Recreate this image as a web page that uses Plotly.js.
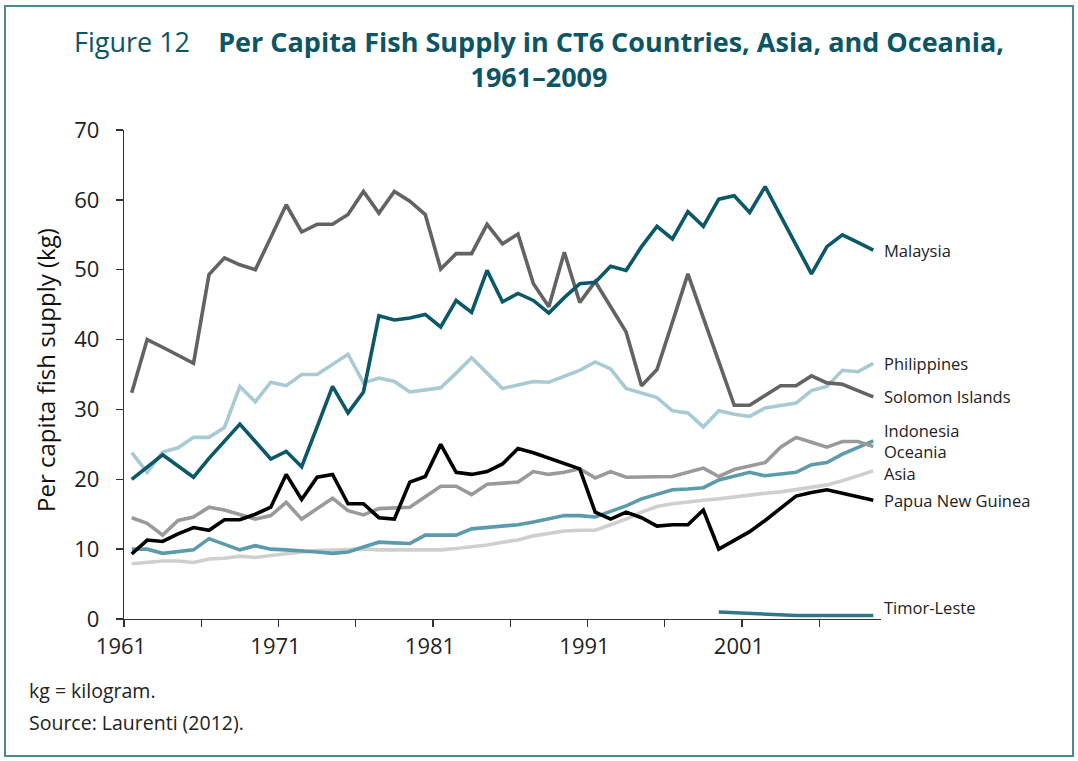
<!DOCTYPE html>
<html>
<head>
<meta charset="utf-8">
<script src="https://cdn.plot.ly/plotly-3.0.1.min.js"></script>
<style>html,body{margin:0;padding:0;background:#fff;}#chart{width:1078px;height:761px;}</style>
</head>
<body>
<div id="chart"></div>
<script>
const years = [1961,1962,1963,1964,1965,1966,1967,1968,1969,1970,
  1971,1972,1973,1974,1975,1976,1977,1978,1979,1980,
  1981,1982,1983,1984,1985,1986,1987,1988,1989,1990,
  1991,1992,1993,1994,1995,1996,1997,1998,1999,2000,
  2001,2002,2003,2004,2005,2006,2007,2008,2009];

const malaysia = [20.0,21.7,23.5,21.9,20.3,23.0,25.5,27.9,25.4,22.9,
  24.0,21.8,27.5,33.3,29.5,32.5,43.4,42.8,43.1,43.6,
  41.8,45.6,43.9,49.9,45.4,46.6,45.6,43.8,46.0,48.0,
  48.2,50.5,49.9,53.3,56.2,54.4,58.3,56.2,60.1,60.6,
  58.2,61.9,57.7,53.6,49.4,53.3,55.0,53.9,52.8];

const solomon = [32.4,40.0,38.9,37.7,36.6,49.3,51.7,50.7,50.0,54.6,
  59.3,55.4,56.5,56.5,57.9,61.2,58.1,61.2,59.8,57.9,
  50.1,52.3,52.3,56.5,53.7,55.1,48.0,44.7,52.5,45.3,
  48.3,44.7,41.1,33.4,35.7,42.5,49.4,43.1,36.9,30.6,
  30.6,32.0,33.4,33.4,34.8,33.8,33.6,32.7,31.8];

const philippines = [23.8,21.0,23.9,24.5,26.0,26.0,27.4,33.3,31.1,33.9,
  33.4,35.0,35.0,36.4,37.9,33.8,34.5,34.0,32.5,32.8,
  33.1,35.2,37.4,35.2,33.0,33.5,34.0,33.9,34.7,35.6,
  36.8,35.8,33.0,32.4,31.7,29.8,29.5,27.5,29.8,29.3,
  29.0,30.2,30.5,30.9,32.7,33.3,35.6,35.4,36.6];

const indonesia = [14.5,13.7,12.0,14.1,14.6,16.0,15.6,15.0,14.3,14.8,
  16.7,14.3,15.8,17.3,15.5,14.9,15.8,15.9,16.0,17.5,
  19.0,19.0,17.8,19.3,19.4,19.6,21.1,20.7,21.0,21.5,
  20.2,21.1,20.3,20.3,20.3,20.4,21.0,21.6,20.4,21.4,
  21.9,22.4,24.6,26.0,25.3,24.6,25.4,25.4,24.7];

const oceania = [10.0,10.0,9.4,9.7,9.9,11.5,10.7,9.9,10.5,10.0,
  9.9,9.8,9.6,9.4,9.6,10.3,11.0,10.9,10.8,12.0,
  12.0,12.0,12.9,13.1,13.3,13.5,13.9,14.3,14.8,14.8,
  14.6,15.4,16.2,17.2,17.9,18.5,18.6,18.8,19.9,20.4,
  21.0,20.5,20.7,21.0,22.1,22.4,23.6,24.6,25.5];

const asia = [7.9,8.1,8.3,8.3,8.1,8.6,8.7,9.0,8.8,9.1,
  9.4,9.6,9.8,9.9,10.0,10.0,9.9,9.9,9.8,9.8,
  9.9,10.1,10.3,10.6,11.0,11.3,11.9,12.3,12.6,12.7,
  12.7,13.5,14.3,15.3,16.1,16.5,16.8,17.0,17.2,17.5,
  17.7,18.0,18.2,18.5,18.8,19.2,19.8,20.5,21.2];

const png = [9.3,11.3,11.1,12.2,13.1,12.7,14.2,14.2,15.0,16.0,
  20.7,17.1,20.3,20.7,16.5,16.5,14.5,14.3,19.6,20.4,
  25.0,21.0,20.7,21.1,22.2,24.4,23.8,23.0,22.3,21.5,
  15.3,14.3,15.3,14.5,13.3,13.5,13.5,15.6,10.0,11.2,
  12.5,14.1,15.8,17.6,18.1,18.5,18.0,17.5,17.0];

const timorYears = [1999,2000,2001,2002,2003,2004,2005,2006,2007,2008,2009];
const timor = [1.0,0.9,0.8,0.7,0.5,0.5,0.5,0.5,0.5,0.5,0.5];

const tickLabels = ['1961','','1971','','1981','','1991','','2001',''];

// ---- styling / layout ----
const W = 1078, H = 761;
const M = {l:124, r:197, t:130, b:142};
const PW = W - M.l - M.r, PH = H - M.t - M.b;
const px = x => (x - M.l) / PW;
const py = y => (M.t + PH - y) / PH;

const series = [
  {name:'Asia', x:years, y:asia, color:'#cfcfcf', dy:-3},
  {name:'Oceania', x:years, y:oceania, color:'#5c9bab', dy:-11},
  {name:'Indonesia', x:years, y:indonesia, color:'#9a9a9a', dy:16},
  {name:'Philippines', x:years, y:philippines, color:'#a8cad4', dy:0},
  {name:'Solomon Islands', x:years, y:solomon, color:'#636363', dy:0},
  {name:'Papua New Guinea', x:years, y:png, color:'#000000', dy:0},
  {name:'Malaysia', x:years, y:malaysia, color:'#0b5868', dy:0},
  {name:'Timor-Leste', x:timorYears, y:timor, color:'#2e7889', dy:8}
];

const traces = series.map(s => ({
  type:'scatter', mode:'lines', name:s.name, x:s.x, y:s.y,
  line:{color:s.color, width:3.6}, hoverinfo:'x+y+name'
}));

const labelFont = {family:'Open Sans', size:16.5, color:'#222'};
const noteFont = {family:'Open Sans', size:19.5, color:'#222'};
const titleColor = '#0b5566';

const annotations = series.map(s => ({
  xref:'x', yref:'y', x:2009.5, y:s.y[s.y.length-1], text:s.name,
  xanchor:'left', yanchor:'middle', xshift:1, yshift:s.dy,
  showarrow:false, font:labelFont
}));

annotations.push({
  xref:'paper', yref:'paper', x:px(539), y:py(59.5),
  text:'Figure 12\u00a0\u00a0\u00a0\u00a0<b>Per Capita Fish Supply in CT6 Countries, Asia, and Oceania,</b><br><b>1961\u20132009</b>',
  xanchor:'center', yanchor:'middle', align:'center', showarrow:false,
  font:{family:'Open Sans', size:27, color:titleColor}
});
annotations.push({
  xref:'paper', yref:'paper', x:px(45), y:py(370), text:'Per capita fish supply (kg)',
  textangle:-90, xanchor:'center', yanchor:'middle', showarrow:false,
  font:{family:'Open Sans', size:24, color:'#111'}
});
annotations.push({
  xref:'paper', yref:'paper', x:px(27), y:py(690), text:'kg = kilogram.',
  xanchor:'left', yanchor:'middle', showarrow:false, font:noteFont
});
annotations.push({
  xref:'paper', yref:'paper', x:px(27), y:py(722), text:'Source: Laurenti (2012).',
  xanchor:'left', yanchor:'middle', showarrow:false, font:noteFont
});

const tickVals = tickLabels.map((t,i) => 1960.5 + 5*i);

const layout = {
  width:W, height:H, margin:M,
  paper_bgcolor:'#fff', plot_bgcolor:'#fff',
  showlegend:false,
  xaxis:{
    range:[1960.5, 2009.5], tickmode:'array', tickvals:tickVals, ticktext:tickLabels,
    ticks:'outside', ticklen:7, tickwidth:1.3, tickcolor:'#333',
    showline:true, linecolor:'#333', linewidth:1.3,
    showgrid:false, zeroline:false, ticklabelshift:-3,
    tickfont:{family:'Open Sans', size:22, color:'#222'}
  },
  yaxis:{
    range:[0, 70], tickmode:'linear', tick0:0, dtick:10,
    ticks:'outside', ticklen:7, tickwidth:1.3, tickcolor:'#333',
    showline:true, linecolor:'#333', linewidth:1.3,
    showgrid:false, zeroline:false,
    ticklabelstandoff:12,
    tickfont:{family:'Open Sans', size:22, color:'#222'}
  },
  annotations:annotations,
  shapes:[{
    type:'rect', xref:'paper', yref:'paper',
    x0:px(5), x1:px(1073), y0:py(756), y1:py(6),
    line:{color:'#4a8896', width:2}, fillcolor:'rgba(0,0,0,0)', layer:'below'
  }]
};

Plotly.newPlot('chart', traces, layout, {displayModeBar:false, staticPlot:true});
</script>
</body>
</html>
